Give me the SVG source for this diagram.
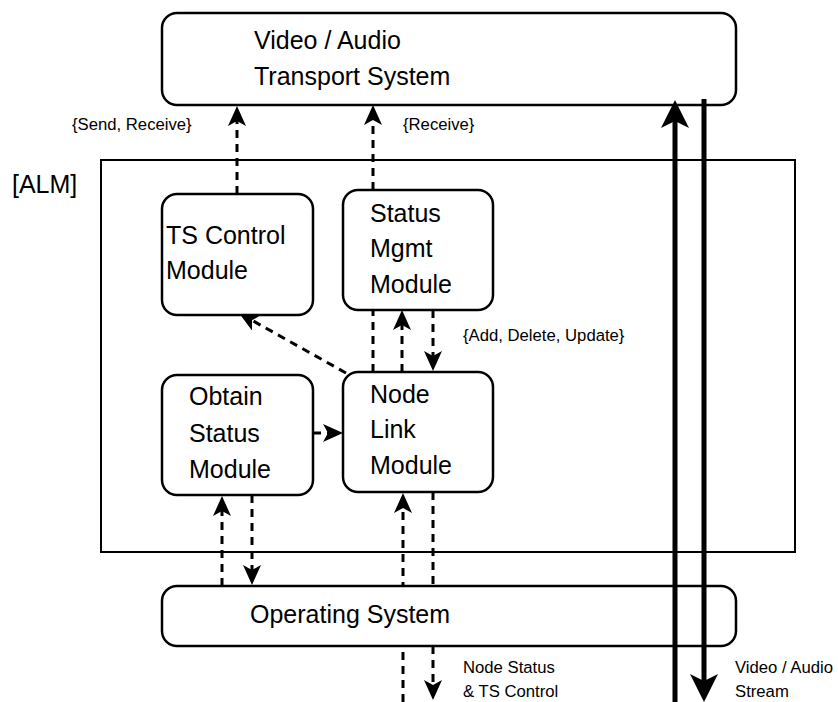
<svg xmlns="http://www.w3.org/2000/svg" width="838" height="702" viewBox="0 0 838 702">
  <defs>
    <style>
      .box { fill: #ffffff; stroke: #000000; stroke-width: 2.5; }
      .frame { fill: none; stroke: #000000; stroke-width: 2; }
      .lbl { font-family: "Liberation Sans", Arial, sans-serif; font-size: 25px; fill: #000000; }
      .note { font-family: "Liberation Sans", Arial, sans-serif; font-size: 16.7px; fill: #000000; }
      .dash { fill: none; stroke: #000000; stroke-width: 3; stroke-dasharray: 8 6; }
      .dash-arrow { marker-end: url(#arrow); }
      .stream { fill: none; stroke: #000000; stroke-width: 5; marker-end: url(#arrow-big); }
    </style>
    <!-- classic notched arrowhead; refX sits 10 units behind the tip -->
    <marker id="arrow" viewBox="0 0 20 18" refX="10" refY="9" markerWidth="20" markerHeight="18" markerUnits="userSpaceOnUse" orient="auto">
      <path d="M20,9 L0,0 L5,9 L0,18 Z" fill="#000000"/>
    </marker>
    <marker id="arrow-big" viewBox="0 0 28 28" refX="14" refY="14" markerWidth="28" markerHeight="28" markerUnits="userSpaceOnUse" orient="auto">
      <path d="M28,14 L0,0 L7,14 L0,28 Z" fill="#000000"/>
    </marker>
  </defs>

  <rect x="0" y="0" width="838" height="702" fill="#ffffff"/>

  <!-- ALM boundary -->
  <g id="alm">
    <rect class="frame" x="101" y="160" width="694" height="392"/>
    <text class="lbl" x="12" y="193">[ALM]</text>
  </g>

  <!-- dashed control/data flows (drawn beneath the modules) -->
  <g id="connectors">
    <path class="dash dash-arrow" d="M237,194 V116"/>
    <path class="dash dash-arrow" d="M373,372 V115"/>
    <path class="dash dash-arrow" d="M402,372 V320"/>
    <path class="dash dash-arrow" d="M433,310 V361"/>
    <path class="dash dash-arrow" d="M346,373 L247.7,317.9"/>
    <path class="dash dash-arrow" d="M313,433 H333"/>
    <path class="dash dash-arrow" d="M222,586 V506"/>
    <path class="dash dash-arrow" d="M252,495 V575"/>
    <path class="dash dash-arrow" d="M403,702 V503"/>
    <path class="dash dash-arrow" d="M433,492 V690"/>
  </g>

  <g id="transport">
    <rect class="box" x="162" y="13" width="574" height="92" rx="15" ry="15"/>
    <text class="lbl" x="254" y="49">Video / Audio</text>
    <text class="lbl" x="254" y="85">Transport System</text>
  </g>

  <g id="ts-control">
    <rect class="box" x="162" y="194" width="151" height="121" rx="15" ry="15"/>
    <text class="lbl" x="166" y="244">TS Control</text>
    <text class="lbl" x="166" y="279">Module</text>
  </g>

  <g id="status-mgmt">
    <rect class="box" x="343" y="190" width="150" height="120" rx="15" ry="15"/>
    <text class="lbl" x="370" y="222">Status</text>
    <text class="lbl" x="370" y="257">Mgmt</text>
    <text class="lbl" x="370" y="293">Module</text>
  </g>

  <g id="obtain-status">
    <rect class="box" x="162" y="375" width="151" height="120" rx="15" ry="15"/>
    <text class="lbl" x="189" y="405">Obtain</text>
    <text class="lbl" x="189" y="442">Status</text>
    <text class="lbl" x="189" y="478">Module</text>
  </g>

  <g id="node-link">
    <rect class="box" x="343" y="372" width="150" height="120" rx="15" ry="15"/>
    <text class="lbl" x="370" y="403">Node</text>
    <text class="lbl" x="370" y="438">Link</text>
    <text class="lbl" x="370" y="474">Module</text>
  </g>

  <g id="operating-system">
    <rect class="box" x="162" y="586" width="574" height="60" rx="15" ry="15"/>
    <text class="lbl" x="250" y="623">Operating System</text>
  </g>

  <!-- media stream, drawn over the boxes -->
  <g id="streams">
    <path class="stream" d="M675,702 V114"/>
    <path class="stream" d="M704,99 V688"/>
  </g>

  <g id="labels">
    <text class="note" x="72" y="130">{Send, Receive}</text>
    <text class="note" x="403" y="130">{Receive}</text>
    <text class="note" x="463" y="341">{Add, Delete, Update}</text>
    <text class="note" x="463" y="673">Node Status</text>
    <text class="note" x="463" y="697">&amp; TS Control</text>
    <text class="note" x="735" y="673">Video / Audio</text>
    <text class="note" x="735" y="697">Stream</text>
  </g>
</svg>
